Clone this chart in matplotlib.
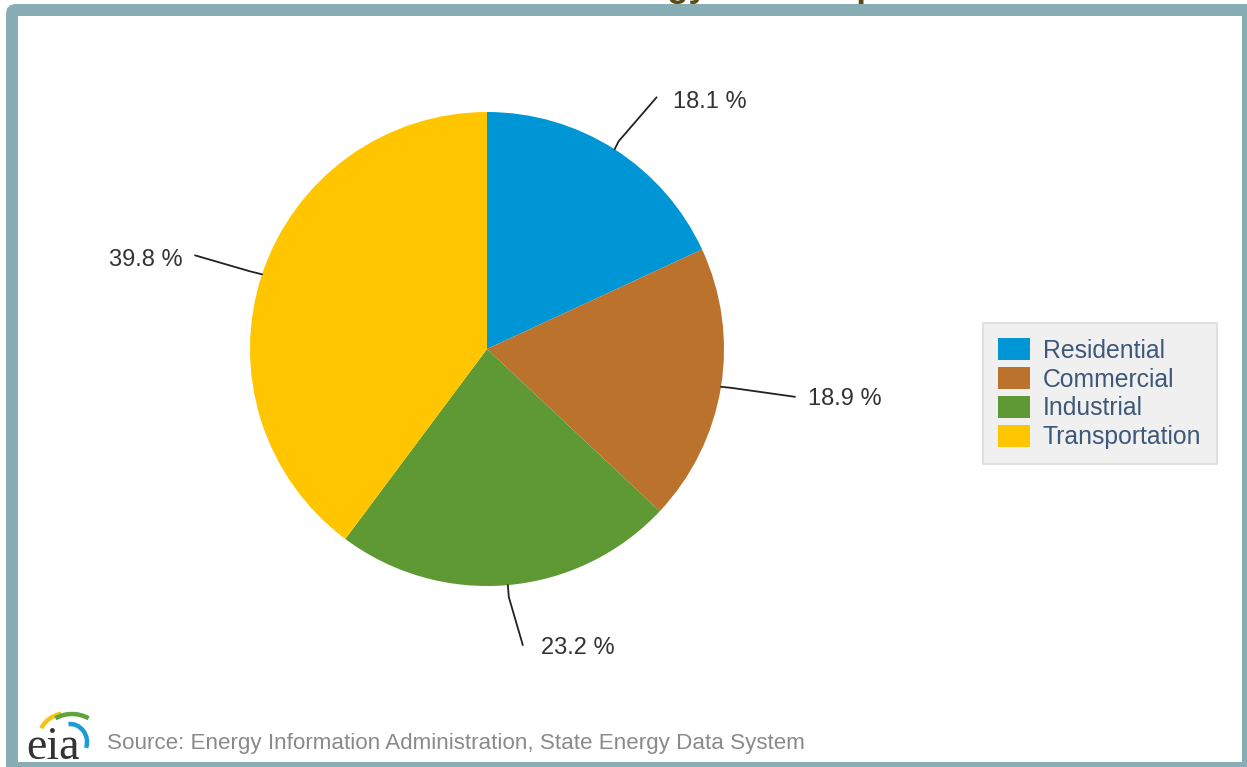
# -*- coding: utf-8 -*-
import matplotlib
matplotlib.use("Agg")
import matplotlib.pyplot as plt
from matplotlib.patches import Rectangle, FancyBboxPatch, Arc, Patch
import numpy as np

# data
sectors = ["Residential", "Commercial", "Industrial", "Transportation"]
shares = [18.1, 18.9, 23.2, 39.8]
colors = ["#0096D6", "#BA722C", "#5E9933", "#FFC600"]
title = "Energy Consumption Estimates"
source = "Source: Energy Information Administration, State Energy Data System"

W, H = 1247, 767
plt.rcParams['font.family'] = ['Liberation Sans', 'DejaVu Sans']

fig = plt.figure(figsize=(W / 100, H / 100), dpi=100)
ax = fig.add_axes([0, 0, 1, 1])


def py(y):
    # pixel row -> data y
    return H - y


# title (mostly hidden above the frame, only descenders peek in)
ax.text(590, py(-3), title, fontsize=25, fontweight='bold', color='#5C4A12',
        ha='left', va='baseline', zorder=0)

# frame
ax.add_patch(FancyBboxPatch((6, py(800)), 1300, 796, boxstyle="round,pad=0,rounding_size=10",
                            facecolor='#87AEB4', edgecolor='none', zorder=1))
ax.add_patch(Rectangle((18, py(762)), 1242 - 18, 762 - 16, facecolor='white',
                       edgecolor='none', zorder=2))

# pie
cx, cy, r = 487, py(349), 237
wedges, _ = ax.pie(shares, colors=colors, startangle=90, counterclock=False,
                   center=(cx, cy), radius=r, frame=True,
                   wedgeprops=dict(linewidth=0))
for w in wedges:
    w.set_zorder(3)
ax.set_xlim(0, W)
ax.set_ylim(0, H)
ax.axis('off')

# leader lines: (bend offset, end offset, text offset, ha) in pixels
leaders = [
    ((4, -8), (42, -52), (16, 5), 'left'),
    ((10, 1), (74, 10), (13, 2), 'left'),
    ((1, 12), (15, 60), (18, 3), 'left'),
    ((-12, -3), (-67, -19), (-12, 5), 'right'),
]
for w, val, (b, e, t, ha) in zip(wedges, shares, leaders):
    ang = np.deg2rad((w.theta1 + w.theta2) / 2)
    ex = cx + r * np.cos(ang)
    ey = cy + r * np.sin(ang)
    xs = [ex, ex + b[0], ex + e[0]]
    ys = [ey, ey - b[1], ey - e[1]]
    ax.plot(xs, ys, color='#222222', lw=1.3, zorder=4, solid_capstyle='round')
    ax.text(ex + e[0] + t[0], ey - e[1] - t[1], "%.1f %%" % val, fontsize=17,
            color='#333333', ha=ha, va='center', zorder=5)

# legend
handles = [Patch(facecolor=c, edgecolor='none', label=s) for s, c in zip(sectors, colors)]
leg = ax.legend(handles=handles, loc='upper left', bbox_to_anchor=(983, py(323)),
                bbox_transform=ax.transData, fontsize=17.8, labelcolor='#3D5878',
                frameon=True, fancybox=False, framealpha=1, borderpad=0.62,
                handlelength=1.3, handleheight=1.0, handletextpad=0.5,
                labelspacing=0.17, borderaxespad=0)
leg.get_frame().set_facecolor('#F0F0F0')
leg.get_frame().set_edgecolor('#DCDCDC')
leg.get_frame().set_linewidth(1.2)
leg.set_zorder(6)

# eia logo
ax.add_patch(Arc((68, py(738)), 58, 50, theta1=105, theta2=160, color='#F2C418', lw=3.2, zorder=5))
ax.add_patch(Arc((72, py(742)), 62, 56, theta1=55, theta2=125, color='#5FA33A', lw=3.2, zorder=5))
ax.add_patch(Arc((70, py(742)), 34, 36, theta1=-20, theta2=95, color='#1E9BD7', lw=3.2, zorder=5))
ax.text(26, py(759), "eia", family='Liberation Serif', fontsize=33, color='#333333',
        ha='left', va='baseline', zorder=6)

# source
ax.text(107, py(743), source, fontsize=16.1, color='#8A8A8A', ha='left', va='center',
        zorder=5)

fig.savefig("out.png", dpi=100)
